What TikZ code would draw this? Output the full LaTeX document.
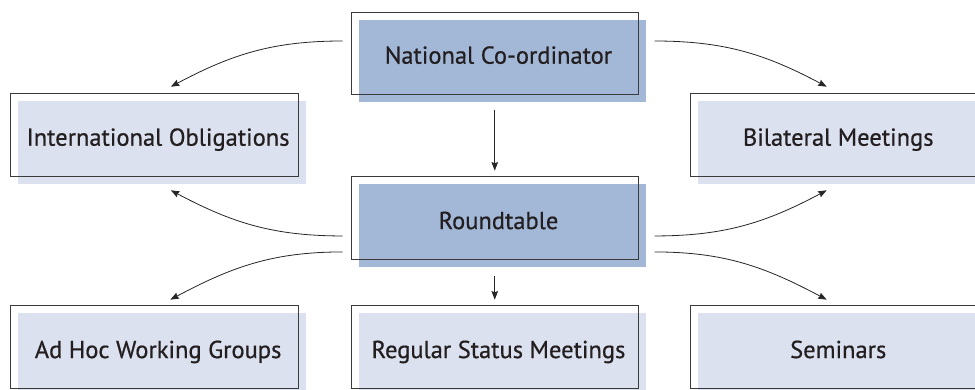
\documentclass[tikz,border=0pt]{standalone}
\usepackage{fontspec}
\newfontfamily\boxfont[FakeBold=0.6]{PT Sans}
\usetikzlibrary{shadows,arrows.meta}
\definecolor{darkfill}{HTML}{A3B8D7}
\definecolor{lightfill}{HTML}{DCE1EF}
\definecolor{boxline}{HTML}{3A3A3A}
\definecolor{txt}{HTML}{231F20}
\tikzset{
  box/.style={draw=boxline, line width=1pt, minimum width=287.5pt, minimum height=83pt,
    inner sep=0pt, general shadow={fill=#1, shadow xshift=7.5pt, shadow yshift=-7.5pt}},
  lbl/.style={inner sep=0pt, text height=17pt, text depth=5pt, xshift=3.75pt, yshift=-4.7pt, text=txt,
    font=\boxfont\fontsize{24.5}{28}\selectfont},
  arr/.style={draw=black!85, line width=0.8pt, -{Stealth[length=8.5pt,width=6.5pt,inset=1pt]}}
}
\begin{document}
\begin{tikzpicture}[x=1pt,y=1pt]
\clip (0,0) rectangle (975,-389);
\fill[white] (0,0) rectangle (975,-389);
\node[box=darkfill, minimum height=82pt, label={[lbl]center:National Co-ordinator}] (nat) at (494.75,-53) {};
\node[box=lightfill, label={[lbl]center:International Obligations}] (intl) at (154.35,-135) {};
\node[box=lightfill, label={[lbl]center:Bilateral Meetings}] (bil) at (834.5,-135) {};
\node[box=darkfill, label={[lbl]center:Roundtable}] (rt) at (494.75,-218.35) {};
\node[box=lightfill, label={[lbl]center:Ad Hoc Working Groups}] (adhoc) at (154.35,-347.35) {};
\node[box=lightfill, label={[lbl]center:Regular Status Meetings}] (reg) at (494.75,-347.35) {};
\node[box=lightfill, label={[lbl]center:Seminars}] (sem) at (834.5,-347.35) {};
% connectors
\draw[arr] ([xshift=-8pt,yshift=12pt]nat.west) to[out=180,in=28] ([xshift=16.5pt,yshift=6.3pt]intl.north);
\draw[arr] ([xshift=15.5pt,yshift=12pt]nat.east) to[out=0,in=152] ([xshift=-7.8pt,yshift=6.3pt]bil.north);
\draw[arr] ([yshift=-15pt]nat.south) -- ([yshift=5.7pt]rt.north);
\draw[arr] ([xshift=-8pt,yshift=-17.6pt]rt.west) to[out=180,in=-28] ([xshift=16.5pt,yshift=-13.3pt]intl.south);
\draw[arr] ([xshift=15.5pt,yshift=-17.6pt]rt.east) to[out=0,in=208] ([xshift=-7.8pt,yshift=-13.3pt]bil.south);
\draw[arr] ([xshift=-8pt,yshift=-33.6pt]rt.west) to[out=180,in=28] ([xshift=16pt,yshift=5.7pt]adhoc.north);
\draw[arr] ([xshift=15.5pt,yshift=-33.6pt]rt.east) to[out=0,in=152] ([xshift=-7.8pt,yshift=5.7pt]sem.north);
\draw[arr] ([yshift=-15.7pt]rt.south) -- ([yshift=5.7pt]reg.north);
\end{tikzpicture}
\end{document}
